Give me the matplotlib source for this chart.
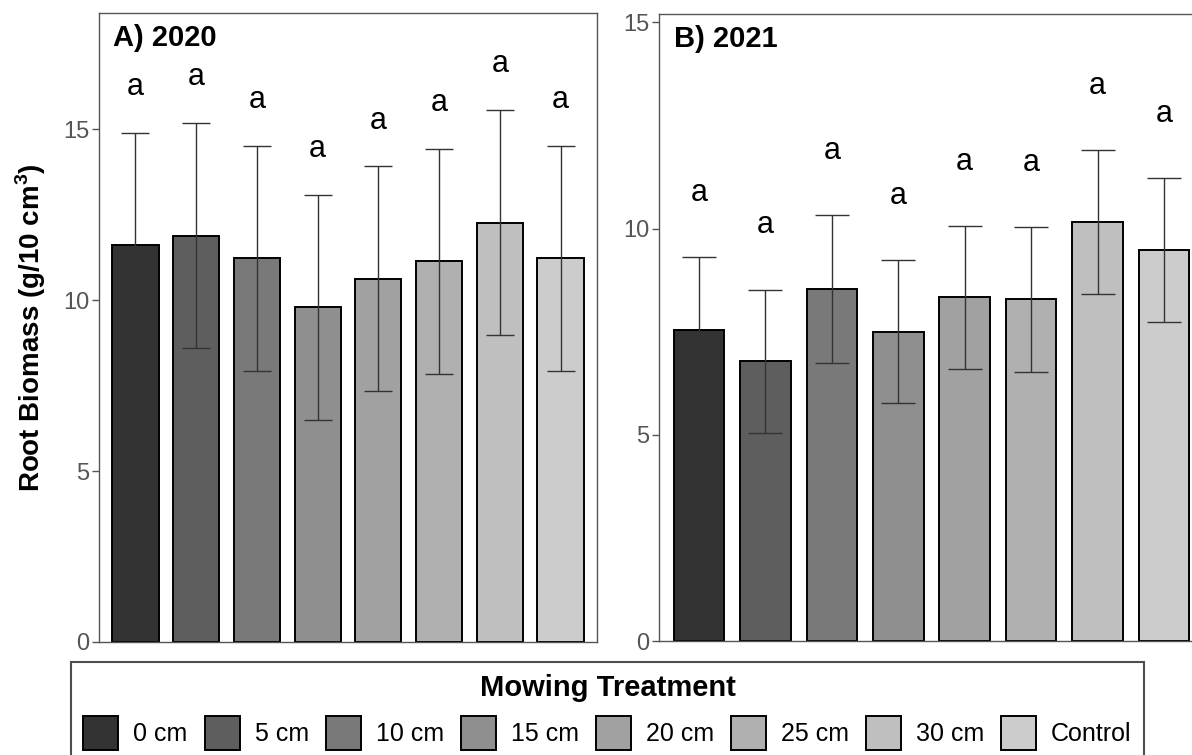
import matplotlib
matplotlib.use("Agg")
import matplotlib.pyplot as plt
from matplotlib.patches import Patch

plt.rcParams['font.family'] = ['Liberation Sans', 'DejaVu Sans']
plt.rcParams['mathtext.fontset'] = 'custom'
plt.rcParams['mathtext.rm'] = 'Liberation Sans'
plt.rcParams['mathtext.bf'] = 'Liberation Sans:bold'

# data
treatments = ['0 cm', '5 cm', '10 cm', '15 cm', '20 cm', '25 cm', '30 cm', 'Control']
fills = ['#333333', '#5E5E5E', '#797979', '#8F8F8F', '#A1A1A1', '#B0B0B0', '#BFBFBF', '#CCCCCC']

mean_2020 = [11.61, 11.88, 11.22, 9.79, 10.62, 11.14, 12.26, 11.22]
se_2020 = [3.28, 3.29, 3.28, 3.29, 3.29, 3.29, 3.29, 3.28]
letters_2020 = ['a'] * 8

mean_2021 = [7.55, 6.78, 8.53, 7.50, 8.33, 8.28, 10.16, 9.48]
se_2021 = [1.75, 1.74, 1.80, 1.74, 1.74, 1.75, 1.75, 1.74]
letters_2021 = ['a'] * 8

W, H = 1192, 755
fig = plt.figure(figsize=(W / 100, H / 100), dpi=100)

def px_axes(l, r, t, b):
    return fig.add_axes([l / W, 1 - b / H, (r - l) / W, (b - t) / H])

ax1 = px_axes(99, 597, 13, 642)
ax2 = px_axes(659, 1204, 14, 641)

def panel(ax, means, ses, letters, title, ymax, yticks, capsize, lab_off):
    x = list(range(1, len(means) + 1))
    ax.bar(x, means, width=0.76, color=fills, edgecolor='black', linewidth=1.4, zorder=2)
    ax.errorbar(x, means, yerr=ses, fmt='none', ecolor='#333333', elinewidth=1.0,
                capsize=capsize, capthick=1.0, zorder=3)
    for xi, m, s, lab in zip(x, means, ses, letters):
        ax.text(xi, m + s + lab_off, lab, ha='center', va='baseline', fontsize=22)
    ax.set_xlim(0.4, 8.6)
    ax.set_ylim(0, ymax)
    ax.set_yticks(yticks)
    ax.set_xticks([])
    ax.tick_params(axis='y', colors='#555555', labelsize=17, length=5, width=1, pad=2)
    for sp in ax.spines.values():
        sp.set_color('#555555')
        sp.set_linewidth(1.0)
    ax.text(14 / 498, 1 - 33 / 629, title, transform=ax.transAxes, fontsize=21,
            fontweight='bold', ha='left', va='baseline')

panel(ax1, mean_2020, se_2020, letters_2020, 'A) 2020', 18.4, [0, 5, 10, 15], 10.4, 1.11)
panel(ax2, mean_2021, se_2021, letters_2021, 'B) 2021', 15.2, [0, 5, 10, 15], 11.9, 1.36)

fig.text(31 / W, 1 - 327.5 / H, r'Root Biomass (g/10 cm$^{\mathbf{3}}$)', rotation=90,
         ha='center', va='center', fontsize=20, fontweight='bold')

handles = [Patch(facecolor=c, edgecolor='black', linewidth=1.4) for c in fills]
leg = fig.legend(handles, treatments, ncol=8, loc='upper center',
                 bbox_to_anchor=(607.5 / W, 1 - 662 / H), fontsize=18,
                 title='Mowing Treatment', title_fontproperties={'size': 21, 'weight': 'bold'},
                 frameon=True, fancybox=False, edgecolor='#222222',
                 handlelength=1.4, handleheight=1.72, handletextpad=0.6,
                 columnspacing=0.68, labelspacing=0.55, borderpad=0.48, borderaxespad=0)
leg.get_frame().set_linewidth(1.5)

fig.savefig('out.png', dpi=100)
